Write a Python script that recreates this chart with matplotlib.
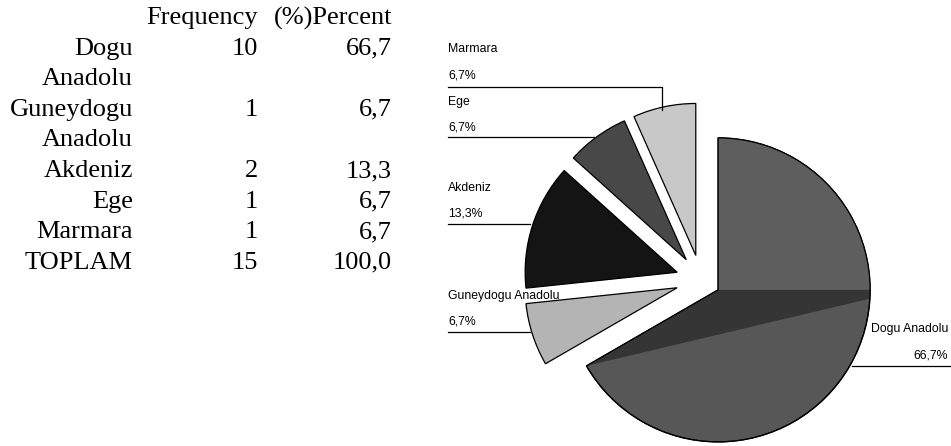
import matplotlib
matplotlib.use("Agg")
import matplotlib.pyplot as plt
from matplotlib.patches import Polygon, Wedge
import numpy as np

# ---- data ----
regions = ["Dogu Anadolu", "Guneydogu Anadolu", "Akdeniz", "Ege", "Marmara"]
table_labels = ["Dogu\nAnadolu", "Guneydogu\nAnadolu", "Akdeniz", "Ege", "Marmara"]
frequency = [10, 1, 2, 1, 1]
total_label = "TOPLAM"
header_freq = "Frequency"
header_pct = "(%)Percent"

# ---- styles ----
slice_colors = ["#575757", "#b4b4b4", "#141414", "#484848", "#c8c8c8"]
explode_frac = [0.13, 0.165, 0.165, 0.165, 0.165]

W, H = 951, 446
fig = plt.figure(figsize=(W / 100, H / 100), dpi=100)
ax = fig.add_axes([0, 0, 1, 1])

total = sum(frequency)
pcts = [f / total * 100 for f in frequency]


def fmt(v):
    return f"{v:.1f}".replace(".", ",")


# ---- table (left) ----
serif = ["Liberation Serif", "DejaVu Serif"]
tfs = 19
pitch = 30.6
y0 = 18
ax.text(258, H - y0, header_freq, ha="right", va="center", fontsize=tfs, family=serif)
ax.text(392, H - y0, header_pct, ha="right", va="center", fontsize=tfs, family=serif)
line = 1
for lab, f, p in zip(table_labels, frequency, pcts):
    parts = lab.split("\n")
    yy = H - (y0 + pitch * line)
    ax.text(133, yy, parts[0], ha="right", va="center", fontsize=tfs, family=serif)
    ax.text(258, yy, str(f), ha="right", va="center", fontsize=tfs, family=serif)
    ax.text(392, yy, fmt(p), ha="right", va="center", fontsize=tfs, family=serif)
    line += 1
    for extra in parts[1:]:
        yy = H - (y0 + pitch * line)
        ax.text(133, yy, extra, ha="right", va="center", fontsize=tfs, family=serif)
        line += 1
yy = H - (y0 + pitch * line)
ax.text(133, yy, total_label, ha="right", va="center", fontsize=tfs, family=serif)
ax.text(258, yy, str(total), ha="right", va="center", fontsize=tfs, family=serif)
ax.text(392, yy, fmt(100.0), ha="right", va="center", fontsize=tfs, family=serif)

# ---- pie (right) ----
center = (701, H - 280)
radius = 152
wedges, _ = ax.pie(frequency, colors=slice_colors,
                   explode=[e * radius for e in explode_frac], startangle=90,
                   counterclock=False, center=center, radius=radius, frame=True,
                   wedgeprops=dict(edgecolor="black", linewidth=0.9))

# shading on the big slice
w0 = wedges[0]
cx, cy = w0.center
r = w0.r
pts = [(cx, cy), (cx + r * 1.05, cy),
       (cx + r * 1.05 * np.cos(np.radians(-2.5)), cy + r * 1.05 * np.sin(np.radians(-2.5))),
       (cx + r * np.cos(np.radians(w0.theta1)), cy + r * np.sin(np.radians(w0.theta1)))]
upper = Wedge((cx, cy), r, 0, w0.theta2, facecolor="#5e5e5e", edgecolor="none",
              zorder=w0.get_zorder() + 0.05)
ax.add_patch(upper)
band = Polygon(pts, closed=True, facecolor="#353535", edgecolor="none", zorder=w0.get_zorder() + 0.1)
ax.add_patch(band)
band.set_clip_path(w0)
ax.add_patch(Wedge((cx, cy), r, w0.theta1, w0.theta2, fill=False, edgecolor="black",
                   linewidth=0.9, zorder=w0.get_zorder() + 0.2))

# ---- labels with leader lines ----
sans = ["Liberation Sans", "DejaVu Sans"]
lfs = 8.8
label_name_y = {"Marmara": 49, "Ege": 102, "Akdeniz": 188, "Guneydogu Anadolu": 296, "Dogu Anadolu": 329}
leader = {
    "Marmara": [(448, 87), (662, 87), (662, 110)],
    "Ege": [(448, 137), (594, 137)],
    "Akdeniz": [(448, 224), (530, 224)],
    "Guneydogu Anadolu": [(448, 332), (530, 332)],
    "Dogu Anadolu": [(852, 366), (950, 366)],
}
for name, p in zip(regions, pcts):
    ny = label_name_y[name]
    if name == "Dogu Anadolu":
        ax.text(948, H - ny, name, ha="right", va="center", fontsize=lfs, family=sans, zorder=10)
        ax.text(948, H - ny - 26, fmt(p) + "%", ha="right", va="center", fontsize=lfs, family=sans, zorder=10)
    else:
        ax.text(448, H - ny, name, ha="left", va="center", fontsize=lfs, family=sans, zorder=10)
        ax.text(448, H - ny - 26, fmt(p) + "%", ha="left", va="center", fontsize=lfs, family=sans, zorder=10)
    xs, ys = zip(*leader[name])
    ax.plot(xs, [H - v for v in ys], color="black", linewidth=0.9, zorder=9)

ax.set_xlim(0, W)
ax.set_ylim(0, H)
ax.set_aspect("auto")
ax.axis("off")
fig.savefig("out.png", dpi=100)
